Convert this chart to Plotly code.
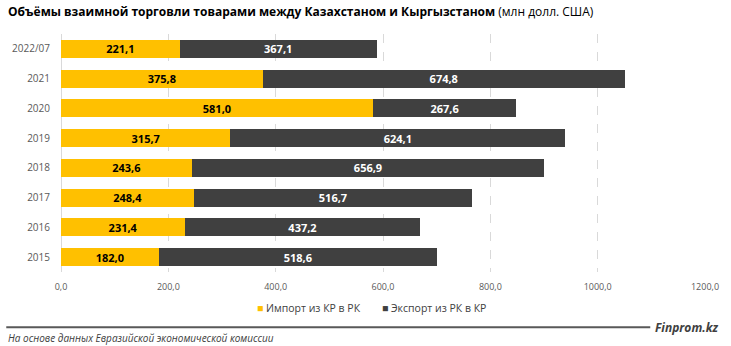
import plotly.graph_objects as go

categories = ["2022/07", "2021", "2020", "2019", "2018", "2017", "2016", "2015"]
imports = [221.1, 375.8, 581.0, 315.7, 243.6, 248.4, 231.4, 182.0]
exports = [367.1, 674.8, 267.6, 624.1, 656.9, 516.7, 437.2, 518.6]
tick_vals = [0, 200, 400, 600, 800, 1000, 1200]
tick_text = ["0,0", "200,0", "400,0", "600,0", "800,0", "1000,0", "1200,0"]
series_names = ["Импорт из КР в РК", "Экспорт из РК в КР"]
colors = ["#FFC000", "#404040"]

def fmt(v):
    return f"{v:.1f}".replace(".", ",")

FONT = "Open Sans"

fig = go.Figure()
for vals, name, col, tcol in [(imports, series_names[0], colors[0], "#000000"),
                              (exports, series_names[1], colors[1], "#FFFFFF")]:
    fig.add_trace(go.Bar(
        y=categories, x=vals, orientation="h", name=name,
        marker=dict(color=col, line=dict(width=0)),
        text=[fmt(v) for v in vals], textposition="inside", insidetextanchor="middle",
        constraintext="none",
        textfont=dict(color=tcol, size=11, family=FONT, weight="bold"),
        width=0.6, hoverinfo="skip", showlegend=False,
    ))

legend_text = (f"<span style='color:{colors[0]}'>■</span> {series_names[0]}"
               f"        <span style='color:{colors[1]}'>■</span> {series_names[1]}")

fig.update_layout(
    width=731, height=346,
    margin=dict(l=60, r=19, t=34, b=74),
    barmode="stack",
    plot_bgcolor="white", paper_bgcolor="white",
    font=dict(family=FONT, size=10, color="#595959"),
    showlegend=False,
    xaxis=dict(range=[0, 1200], tickvals=tick_vals, ticktext=tick_text,
               showgrid=True, gridcolor="#D9D9D9", griddash="dash", gridwidth=1,
               zeroline=True, zerolinecolor="#D9D9D9", zerolinewidth=1,
               tickfont=dict(size=9, color="#595959"),
               ticks="outside", ticklen=6, tickcolor="white", fixedrange=True),
    yaxis=dict(autorange="reversed", tickfont=dict(size=10, color="#595959"),
               ticks="outside", ticklen=8, tickcolor="white", showline=False),
    annotations=[
        dict(text="<b>Объёмы взаимной торговли товарами между Казахстаном и Кыргызстаном</b> (млн долл. США)",
             x=0, xref="paper", xanchor="left", y=1, yref="paper", yanchor="bottom",
             xshift=-55, yshift=12, showarrow=False,
             font=dict(size=12, color="#000000", family=FONT)),
        dict(text=legend_text,
             x=0.482, xref="paper", xanchor="center", y=0, yref="paper", yanchor="middle",
             yshift=-36, showarrow=False,
             font=dict(size=10.5, color="#404040", family=FONT)),
        dict(text="<i>На основе данных Евразийской экономической комиссии</i>",
             x=0, xref="paper", xanchor="left", y=0, yref="paper", yanchor="middle",
             xshift=-55, yshift=-66, showarrow=False,
             font=dict(size=10, color="#404040", family=FONT)),
        dict(text="<b><i>Finprom.kz</i></b>",
             x=1, xref="paper", xanchor="right", y=0, yref="paper", yanchor="middle",
             xshift=15, yshift=-55, showarrow=False,
             font=dict(size=12, color="#404040", family=FONT)),
    ],
    shapes=[
        dict(type="line", xref="paper", yref="paper", x0=-0.085, x1=0.915,
             y0=-0.232, y1=-0.232, line=dict(color="#595959", width=2)),
    ],
)

fig.write_html("out.html")
